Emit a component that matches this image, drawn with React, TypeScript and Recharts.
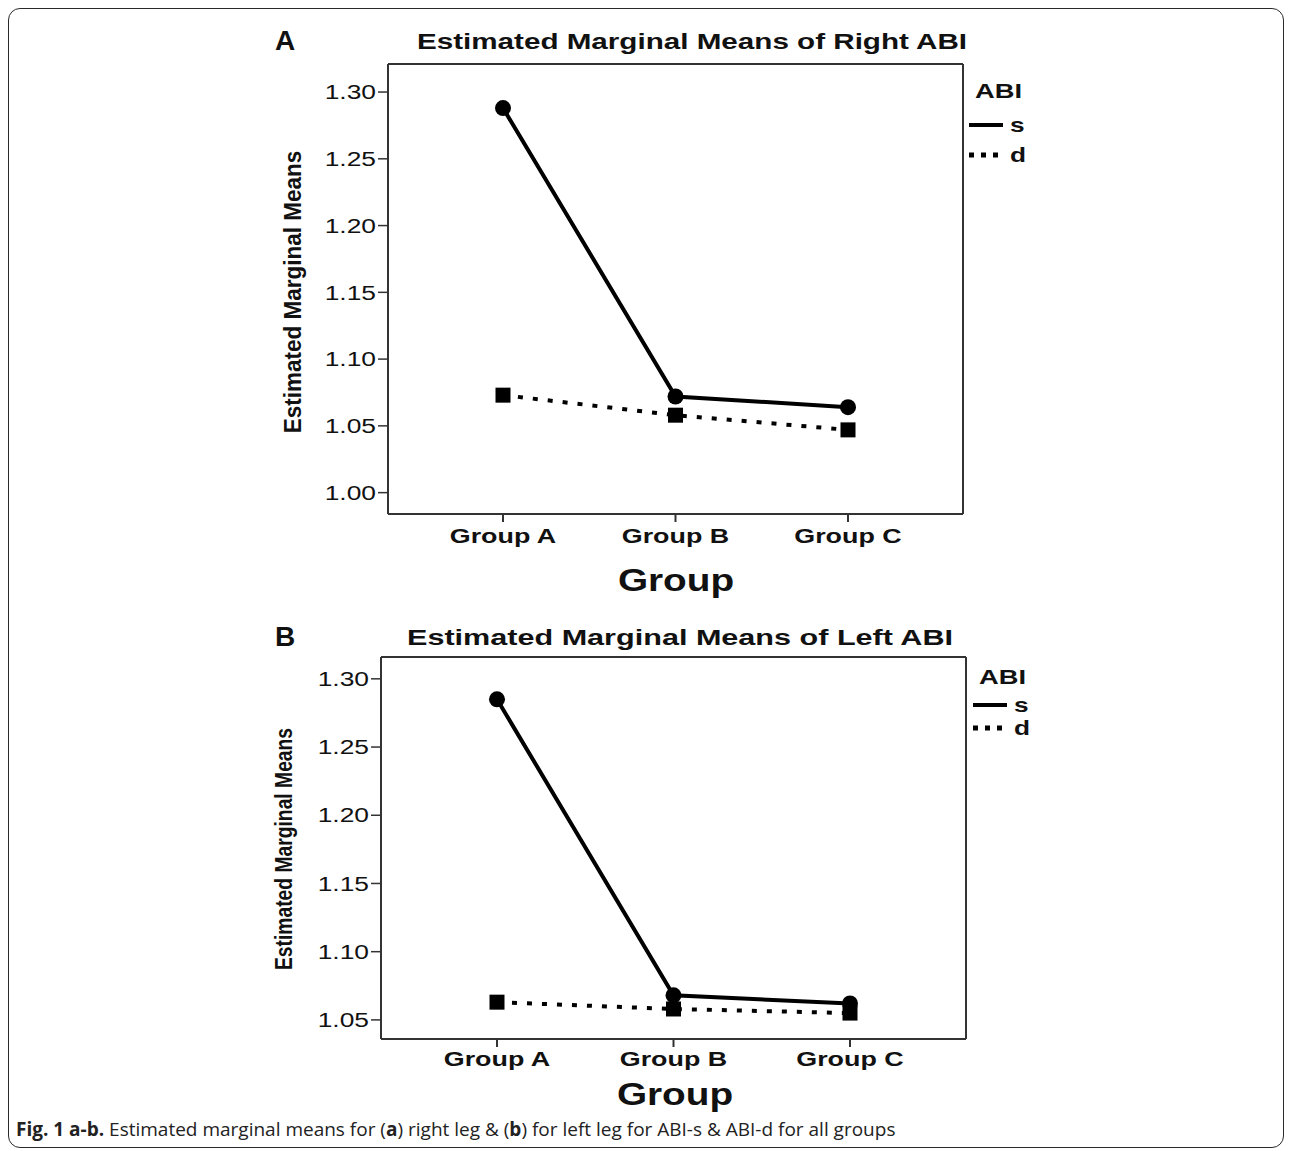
import React from 'react';
import { LineChart, Line, XAxis, YAxis, CartesianGrid } from 'recharts';

const groups = ['Group A', 'Group B', 'Group C'];
const rightS = [1.288, 1.072, 1.064];
const rightD = [1.073, 1.058, 1.047];
const leftS = [1.285, 1.068, 1.062];
const leftD = [1.063, 1.058, 1.055];
const rightTicks = [1.0, 1.05, 1.1, 1.15, 1.2, 1.25, 1.3];
const leftTicks = [1.05, 1.1, 1.15, 1.2, 1.25, 1.3];
const rightDomain = [0.984, 1.321];
const leftDomain = [1.036, 1.316];

const FONT = '"Liberation Sans", Arial, sans-serif';
const INK = '#111';
const FRAME = '#333';

const rightData = groups.map((g, i) => ({ group: g, s: rightS[i], d: rightD[i] }));
const leftData = groups.map((g, i) => ({ group: g, s: leftS[i], d: leftD[i] }));

const YTick = (props: any) => {
  const { x, y, payload } = props;
  return (
    <g transform={`translate(${x},${y})`}>
      <text transform="scale(1.32,1)" textAnchor="end" dy="0.36em" fontSize={20} fontFamily={FONT} fill={INK}>
        {Number(payload.value).toFixed(2)}
      </text>
    </g>
  );
};

const XTick = (props: any) => {
  const { x, y, payload } = props;
  return (
    <g transform={`translate(${x},${y})`}>
      <text transform="scale(1.28,1)" textAnchor="middle" dy="0.71em" fontSize={21} fontWeight="bold" fontFamily={FONT} fill={INK}>
        {payload.value}
      </text>
    </g>
  );
};

const SquareDot = (props: any) => {
  const { cx, cy, index } = props;
  return <rect key={`sq-${index}`} x={cx - 7.5} y={cy - 7.5} width={15} height={15} fill="#000" />;
};

// text stretched sideways like the exported SPSS figure
function Stretch({ x, y, size, scale = 1.35, center = false, bold = true, children }: any) {
  return (
    <div
      style={{
        position: 'absolute',
        left: x,
        top: y,
        fontFamily: FONT,
        fontSize: size,
        lineHeight: 1,
        fontWeight: bold ? 'bold' : 'normal',
        whiteSpace: 'nowrap',
        color: INK,
        transformOrigin: center ? 'center top' : 'left top',
        transform: center ? `translateX(-50%) scaleX(${scale})` : `scaleX(${scale})`,
      }}
    >
      {children}
    </div>
  );
}

// the plot frame: grid lines only on the four edges of the plot area
const frameRows = ({ offset }: any) => [offset.top, offset.top + offset.height];
const frameCols = ({ offset }: any) => [offset.left, offset.left + offset.width];

function Panel({ data, ticks, domain, top, margin, yWidth, pad }: any) {
  const frameLine = { stroke: FRAME, strokeWidth: 2 };
  return (
    <div style={{ position: 'absolute', left: 242, top }}>
      <LineChart width={810} height={margin.height} data={data} margin={margin.m}>
        <CartesianGrid
          stroke={FRAME}
          strokeWidth={2}
          horizontalCoordinatesGenerator={frameRows}
          verticalCoordinatesGenerator={frameCols}
        />
        <XAxis
          dataKey="group"
          scale="point"
          padding={{ left: pad, right: pad }}
          height={40}
          tick={<XTick />}
          tickSize={8}
          tickMargin={margin.xMargin}
          tickLine={{ stroke: FRAME, strokeWidth: 2 }}
          axisLine={frameLine}
          interval={0}
        />
        <YAxis
          type="number"
          domain={domain}
          ticks={ticks}
          allowDataOverflow
          width={yWidth}
          tick={<YTick />}
          tickSize={10}
          tickMargin={2}
          tickLine={{ stroke: FRAME, strokeWidth: 1.5 }}
          axisLine={frameLine}
          interval={0}
        />
        <Line
          dataKey="s"
          stroke="#000"
          strokeWidth={4}
          dot={{ r: 8, fill: '#000', stroke: '#000', strokeWidth: 0 }}
          isAnimationActive={false}
        />
        <Line
          dataKey="d"
          stroke="#000"
          strokeWidth={4}
          strokeDasharray="5 10"
          dot={<SquareDot />}
          isAnimationActive={false}
        />
      </LineChart>
    </div>
  );
}

function LegendBox({ x, y, first, gap }: any) {
  return (
    <>
      <Stretch x={x} y={y} size={21} scale={1.3}>ABI</Stretch>
      <svg style={{ position: 'absolute', left: x - 6, top: y + first - 6 }} width={36} height={gap + 12}>
        <line x1={0} x2={34} y1={6} y2={6} stroke="#000" strokeWidth={4} />
        <line x1={0} x2={36} y1={6 + gap} y2={6 + gap} stroke="#000" strokeWidth={5} strokeDasharray="5 7" />
      </svg>
      <Stretch x={x + 35} y={y + first - 11} size={21} scale={1.25}>s</Stretch>
      <Stretch x={x + 35} y={y + first - 11 + gap} size={21} scale={1.25}>d</Stretch>
    </>
  );
}

function YTitle({ x, y, size, thick }: any) {
  return (
    <div
      style={{
        position: 'absolute',
        left: x,
        top: y,
        fontFamily: FONT,
        fontSize: size,
        fontWeight: 'bold',
        lineHeight: 1,
        whiteSpace: 'nowrap',
        color: INK,
        transform: `translate(-50%, -50%) rotate(-90deg) scaleY(${thick})`,
      }}
    >
      Estimated Marginal Means
    </div>
  );
}

export default function App() {
  return (
    <div style={{ position: 'relative', width: 1276, height: 1140 }}>
      <div
        style={{
          position: 'absolute',
          left: 0,
          top: 0,
          width: 1276,
          height: 1140,
          boxSizing: 'border-box',
          border: '1.5px solid #2a2a2a',
          borderRadius: 12,
        }}
      />

      {/* panel A */}
      <Stretch x={267} y={19} size={28} scale={1}>A</Stretch>
      <Stretch x={684} y={23} size={22} scale={1.346} center>Estimated Marginal Means of Right ABI</Stretch>
      <YTitle x={286} y={284} size={22.5} thick={1.1} />
      <Panel
        data={rightData}
        ticks={rightTicks}
        domain={rightDomain}
        top={12}
        yWidth={138}
        pad={115}
        margin={{ height: 580, m: { top: 44, right: 97, bottom: 46, left: 0 }, xMargin: 6 }}
      />
      <Stretch x={668} y={557} size={31} scale={1.25} center>Group</Stretch>
      <LegendBox x={967} y={72} first={45} gap={30} />

      {/* panel B */}
      <Stretch x={267} y={615} size={28} scale={1}>B</Stretch>
      <Stretch x={672} y={619} size={22} scale={1.39} center>Estimated Marginal Means of Left ABI</Stretch>
      <YTitle x={276} y={841} size={19.3} thick={1.2} />
      <Panel
        data={leftData}
        ticks={leftTicks}
        domain={leftDomain}
        top={622}
        yWidth={131}
        pad={116}
        margin={{ height: 470, m: { top: 27, right: 94, bottom: 21, left: 0 }, xMargin: 4 }}
      />
      <Stretch x={667} y={1071} size={31} scale={1.25} center>Group</Stretch>
      <LegendBox x={971} y={658} first={39} gap={23} />

      <div
        style={{
          position: 'absolute',
          left: 8,
          top: 1112,
          fontFamily: '"Open Sans", sans-serif',
          fontSize: 19,
          lineHeight: 1,
          whiteSpace: 'nowrap',
          color: '#222',
        }}
      >
        <b>Fig. 1 a-b.</b> Estimated marginal means for (<b>a</b>) right leg &amp; (<b>b</b>) for left leg for ABI-s &amp; ABI-d
        for all groups
      </div>
    </div>
  );
}
